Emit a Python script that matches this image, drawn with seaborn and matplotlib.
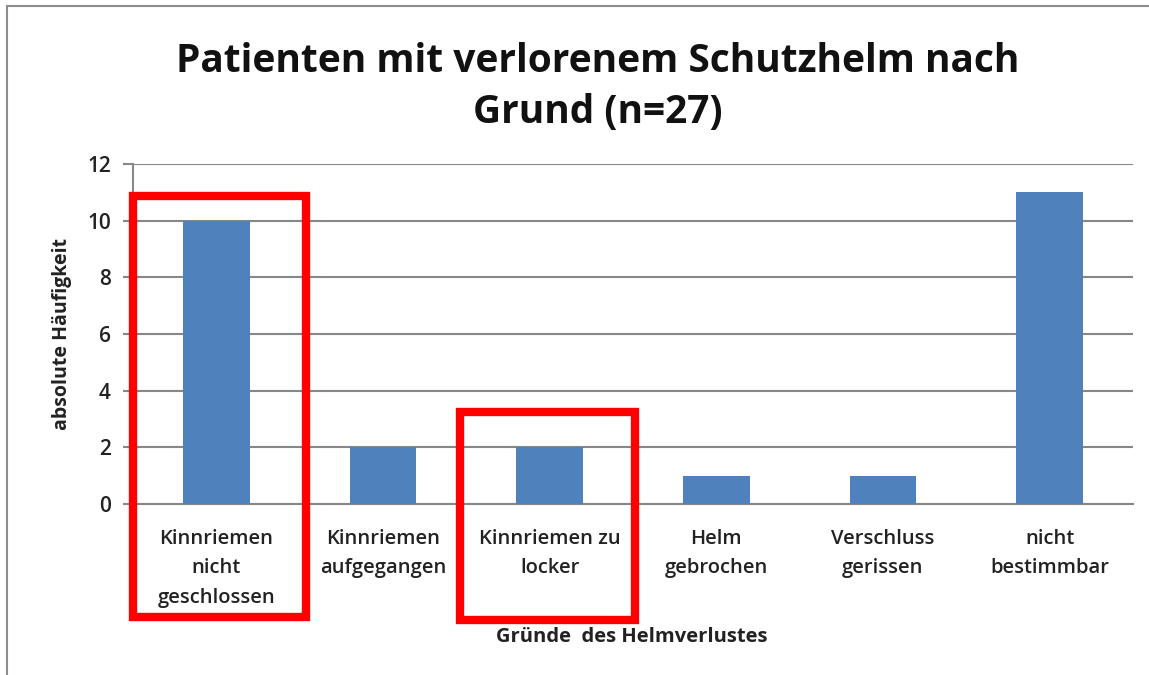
import matplotlib
matplotlib.use('Agg')
import matplotlib.pyplot as plt
import seaborn as sns
import pandas as pd
from matplotlib.patches import Rectangle
from matplotlib.lines import Line2D

# chart data
categories = ['Kinnriemen\nnicht\ngeschlossen', 'Kinnriemen\naufgegangen', 'Kinnriemen zu\nlocker',
              'Helm\ngebrochen', 'Verschluss\ngerissen', 'nicht\nbestimmbar']
counts = [10, 2, 2, 1, 1, 11]
y_ticks = [0, 2, 4, 6, 8, 10, 12]

df = pd.DataFrame({'grund': categories, 'anzahl': counts})

sns.set_style('white')
plt.rcParams['font.family'] = ['Open Sans', 'DejaVu Sans']
text_col = '#222222'
grid_col = '#878787'

fig = plt.figure(figsize=(11.49, 6.75), dpi=100)
ax = fig.add_axes([133 / 1149, 1 - 504 / 675, 1000 / 1149, 340 / 675])

sns.barplot(data=df, x='grund', y='anzahl', color='#4F81BD', saturation=1, width=0.4,
            linewidth=0, ax=ax, zorder=3)

ax.set_ylim(0, 12)
ax.set_xlim(-0.5, len(categories) - 0.5)
ax.set_yticks(y_ticks)
ax.yaxis.grid(True, color=grid_col, linewidth=1.5, zorder=0)
ax.set_axisbelow(True)
for side in ['top', 'right']:
    ax.spines[side].set_visible(False)
ax.spines['left'].set_color(grid_col)
ax.spines['left'].set_linewidth(1.5)
ax.spines['bottom'].set_color(grid_col)
ax.spines['bottom'].set_linewidth(1.5)
ax.tick_params(axis='y', direction='out', length=7, width=1.5, color=grid_col,
               labelsize=15, labelcolor=text_col, pad=9, left=True)
ax.tick_params(axis='x', length=0, labelsize=14.5, labelcolor=text_col, pad=18)
for lbl in ax.get_xticklabels() + ax.get_yticklabels():
    lbl.set_fontweight('semibold')
for lbl in ax.get_xticklabels():
    lbl.set_linespacing(1.63)

ax.set_ylabel('absolute Häufigkeit', fontsize=14, fontweight='bold', color=text_col)
ax.set_xlabel('Gründe  des Helmverlustes', fontsize=14.5, fontweight='bold', color=text_col)
ax.yaxis.set_label_coords(-0.061, 0.5)
ax.xaxis.set_label_coords(0.499, -0.362)

fig.text(598 / 1149, 1 - 87 / 675, 'Patienten mit verlorenem Schutzhelm nach\nGrund (n=27)',
         ha='center', va='center', fontsize=28, fontweight='bold', color='#111111', linespacing=1.42)

# red highlight boxes
ax.add_patch(Rectangle((-0.5, -3.98), 1.04, 14.85, fill=False, edgecolor='#FF0000',
                       linewidth=6, clip_on=False, zorder=5))
ax.add_patch(Rectangle((1.46, -4.1), 1.05, 7.35, fill=False, edgecolor='#FF0000',
                       linewidth=6, clip_on=False, zorder=5))

# outer chart border
fig.add_artist(Line2D([7 / 1149, 7 / 1149], [0, 1 - 6 / 675], color='#8c8c8c', linewidth=1.5))
fig.add_artist(Line2D([7 / 1149, 1], [1 - 6 / 675, 1 - 6 / 675], color='#8c8c8c', linewidth=1.5))

fig.savefig('out.png', dpi=100)
